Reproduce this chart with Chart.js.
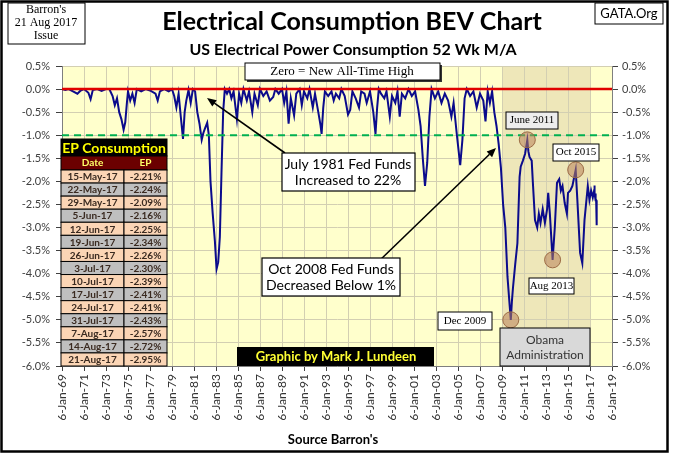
<!DOCTYPE html>
<html>
<head>
<meta charset="utf-8">
<script src="https://cdn.jsdelivr.net/npm/chart.js@4.4.0/dist/chart.umd.min.js"></script>
<style>
  html, body { margin: 0; padding: 0; background: #fff; }
  #wrap { width: 675px; height: 459px; }
</style>
</head>
<body>
<div id="wrap"><canvas id="bevChart" width="675" height="459"></canvas></div>
<script>
// Electrical consumption BEV chart (52 wk M/A, % below all-time high)

// decimal years of the weekly series
var dates = [
  1969.0, 1969.3, 1969.6, 1970.0, 1970.4, 1970.7, 1971.0, 1971.4, 1971.6, 1971.8,
  1972.2, 1972.6, 1973.0, 1973.3, 1973.6, 1973.8, 1974.0, 1974.2, 1974.4, 1974.6,
  1974.75, 1974.9, 1975.0, 1975.2, 1975.4, 1975.6, 1975.8, 1976.2, 1976.6, 1977.0,
  1977.5, 1977.7, 1977.9, 1978.3, 1978.7, 1979.0, 1979.2, 1979.4, 1979.6, 1979.8,
  1980.0, 1980.15, 1980.3, 1980.5, 1980.7, 1980.9, 1981.1, 1981.3, 1981.5, 1981.7,
  1981.85, 1982.0, 1982.2, 1982.35, 1982.5, 1982.7, 1982.9, 1983.05, 1983.2, 1983.35,
  1983.5, 1983.65, 1983.8, 1984.0, 1984.2, 1984.4, 1984.6, 1984.9, 1985.1, 1985.3,
  1985.5, 1985.8, 1986.0, 1986.3, 1986.5, 1986.8, 1987.0, 1987.3, 1987.6, 1987.9,
  1988.2, 1988.4, 1988.7, 1989.0, 1989.2, 1989.4, 1989.6, 1989.8, 1990.1, 1990.3,
  1990.6, 1990.8, 1991.0, 1991.3, 1991.5, 1991.8, 1992.0, 1992.3, 1992.5, 1992.6,
  1992.75, 1992.9, 1993.2, 1993.5, 1993.7, 1993.9, 1994.2, 1994.4, 1994.7, 1995.0,
  1995.2, 1995.4, 1995.7, 1996.0, 1996.2, 1996.5, 1996.7, 1997.0, 1997.3, 1997.5,
  1997.65, 1997.8, 1998.0, 1998.3, 1998.5, 1998.8, 1999.0, 1999.3, 1999.5, 1999.7,
  1999.9, 2000.2, 2000.5, 2000.8, 2001.1, 2001.4, 2001.6, 2001.8, 2002.0, 2002.2,
  2002.4, 2002.6, 2002.9, 2003.2, 2003.5, 2003.8, 2004.1, 2004.4, 2004.6, 2004.9,
  2005.2, 2005.4, 2005.6, 2005.8, 2006.1, 2006.4, 2006.7, 2007.0, 2007.3, 2007.5,
  2007.7, 2007.9, 2008.1, 2008.3, 2008.5, 2008.7, 2008.9, 2009.1, 2009.3, 2009.5,
  2009.7, 2009.8, 2009.9, 2010.0, 2010.2, 2010.4, 2010.6, 2010.7, 2010.9, 2011.1,
  2011.3, 2011.4, 2011.5, 2011.7, 2011.8, 2012.0, 2012.2, 2012.35, 2012.5, 2012.7,
  2012.9, 2013.1, 2013.2, 2013.35, 2013.6, 2013.8, 2014.0, 2014.2, 2014.35, 2014.5,
  2014.7, 2014.9, 2015.0, 2015.2, 2015.4, 2015.7, 2015.85, 2016.1, 2016.3, 2016.5,
  2016.8, 2016.95, 2017.1, 2017.25, 2017.367, 2017.386, 2017.405, 2017.425, 2017.444, 2017.463,
  2017.482, 2017.501, 2017.521, 2017.54, 2017.559, 2017.578, 2017.597, 2017.616, 2017.636
];

var epValues = [
  0, -0.02, 0, -0.05, -0.1, -0.03, 0, -0.08, -0.22, -0.02,
  0, -0.04, 0, 0, -0.15, -0.35, -0.2, -0.5, -0.65, -0.88,
  -0.72, -0.3, -0.05, -0.25, -0.1, -0.3, 0, -0.05, 0, -0.03,
  -0.1, -0.25, -0.05, 0, -0.05, 0, -0.15, -0.4, -0.1, -0.6,
  -1.08, -0.5, -0.25, -0.02, -0.3, 0, -0.05, -0.5, -0.75, -1.1,
  -0.95, -0.85, -0.73, -1.0, -2.0, -2.7, -3.3, -3.9, -3.75, -3.2,
  -1.8, -0.5, 0, -0.1, 0, -0.2, -0.05, -0.65, -0.1, -0.3,
  0, -0.25, -0.05, -0.5, -0.1, -0.35, 0, -0.15, -0.05, -0.25,
  -0.17, 0, -0.1, 0, -0.3, -0.05, -0.75, -0.2, -0.57, -0.1,
  0, -0.35, -0.05, -0.2, 0, -0.4, -0.1, -0.5, -0.78, -0.97,
  -0.4, -0.05, -0.15, -0.05, -0.25, -0.1, -0.2, 0, -0.15, -0.55,
  -0.45, -0.05, -0.2, -0.4, -0.05, -0.1, -0.3, -0.05, -0.5, -0.97,
  -0.4, 0, -0.1, -0.2, -0.05, -0.6, -0.15, -0.3, -0.05, -0.6,
  -0.1, -0.2, 0, -0.15, -0.05, -0.45, -0.8, -1.5, -2.1, -1.6,
  -0.6, 0, -0.2, -0.05, -0.3, -0.1, -0.25, -0.6, -0.3, -1.0,
  -1.65, -1.1, -0.2, 0, -0.15, -0.05, -0.4, -0.1, -0.25, -0.7,
  -0.05, -0.3, -0.05, -0.5, -0.8, -1.2, -1.7, -2.5, -3.0, -4.07,
  -4.7, -5.0, -4.6, -4.3, -3.8, -3.34, -1.9, -1.68, -1.55, -1.4,
  -1.1, -1.35, -1.47, -1.55, -2.0, -2.84, -3.0, -2.7, -2.9, -2.6,
  -2.9, -2.6, -2.25, -2.7, -3.7, -3.0, -2.03, -1.95, -2.2, -2.1,
  -2.47, -2.7, -2.25, -2.2, -2.1, -1.75, -2.4, -3.55, -3.77, -2.84,
  -2.1, -2.4, -2.2, -2.35, -2.21, -2.24, -2.09, -2.16, -2.25, -2.34,
  -2.26, -2.30, -2.39, -2.41, -2.41, -2.43, -2.57, -2.72, -2.95
];

var tickYears = [1969, 1971, 1973, 1975, 1977, 1979, 1981, 1983, 1985, 1987, 1989, 1991, 1993,
  1995, 1997, 1999, 2001, 2003, 2005, 2007, 2009, 2011, 2013, 2015, 2017, 2019];
var tickLabels = ['6-Jan-69', '6-Jan-71', '6-Jan-73', '6-Jan-75', '6-Jan-77', '6-Jan-79', '6-Jan-81',
  '6-Jan-83', '6-Jan-85', '6-Jan-87', '6-Jan-89', '6-Jan-91', '6-Jan-93', '6-Jan-95', '6-Jan-97',
  '6-Jan-99', '6-Jan-01', '6-Jan-03', '6-Jan-05', '6-Jan-07', '6-Jan-09', '6-Jan-11', '6-Jan-13',
  '6-Jan-15', '6-Jan-17', '6-Jan-19'];

// table in the lower left
var tableDates = ['15-May-17', '22-May-17', '29-May-17', '5-Jun-17', '12-Jun-17', '19-Jun-17',
  '26-Jun-17', '3-Jul-17', '10-Jul-17', '17-Jul-17', '24-Jul-17', '31-Jul-17', '7-Aug-17',
  '14-Aug-17', '21-Aug-17'];
var tableValues = [-2.21, -2.24, -2.09, -2.16, -2.25, -2.34, -2.26, -2.30, -2.39, -2.41, -2.41,
  -2.43, -2.57, -2.72, -2.95];

// circled turning points
var circleDates = [2009.8, 2011.3, 2013.6, 2015.7];
var obamaStart = 2009.0, obamaEnd = 2017.0;

function drawBox(ctx, x, y, w, h, fill, stroke, lw) {
    ctx.save();
    if (fill) { ctx.fillStyle = fill; ctx.fillRect(x, y, w, h); }
    if (stroke) { ctx.strokeStyle = stroke; ctx.lineWidth = lw || 1; ctx.strokeRect(x, y, w, h); }
    ctx.restore();
}

function drawLines(ctx, lines, cx, cy, lineH, font, color) {
    ctx.save();
    ctx.font = font;
    ctx.fillStyle = color;
    ctx.textAlign = 'center';
    ctx.textBaseline = 'middle';
    var y0 = cy - (lines.length - 1) * lineH / 2;
    lines.forEach(function (t, i) { ctx.fillText(t, cx, y0 + i * lineH); });
    ctx.restore();
}

function drawArrow(ctx, x1, y1, x2, y2) {
    ctx.save();
    ctx.strokeStyle = '#000';
    ctx.fillStyle = '#000';
    ctx.lineWidth = 1.6;
    var a = Math.atan2(y2 - y1, x2 - x1);
    var hx = x2 - 9 * Math.cos(a), hy = y2 - 9 * Math.sin(a);
    ctx.beginPath(); ctx.moveTo(x1, y1); ctx.lineTo(hx, hy); ctx.stroke();
    ctx.beginPath();
    ctx.moveTo(x2, y2);
    ctx.lineTo(x2 - 10 * Math.cos(a - 0.4), y2 - 10 * Math.sin(a - 0.4));
    ctx.lineTo(x2 - 10 * Math.cos(a + 0.4), y2 - 10 * Math.sin(a + 0.4));
    ctx.closePath(); ctx.fill();
    ctx.restore();
}

var decorPlugin = {
    id: 'decor',
    beforeDraw: function (chart) {
        var ctx = chart.ctx, ca = chart.chartArea, xs = chart.scales.x;
        ctx.save();
        ctx.fillStyle = '#fff';
        ctx.fillRect(0, 0, chart.width, chart.height);
        ctx.fillStyle = '#FFFFCC';
        ctx.fillRect(ca.left, ca.top, ca.right - ca.left, ca.bottom - ca.top);
        var ox1 = xs.getPixelForValue(obamaStart), ox2 = xs.getPixelForValue(obamaEnd);
        ctx.fillStyle = '#EEE7B9';
        ctx.fillRect(ox1, ca.top, ox2 - ox1, ca.bottom - ca.top);
        ctx.restore();
    },
    afterDatasetsDraw: function (chart) {
        var ctx = chart.ctx, ca = chart.chartArea, xs = chart.scales.x, ys = chart.scales.y;
        ctx.save();
        // zero line
        var y0 = ys.getPixelForValue(0);
        ctx.strokeStyle = '#E00000';
        ctx.lineWidth = 2.5;
        ctx.beginPath(); ctx.moveTo(ca.left, y0); ctx.lineTo(ca.right, y0); ctx.stroke();
        // -1% line
        var y1 = ys.getPixelForValue(-1);
        ctx.strokeStyle = '#00B050';
        ctx.lineWidth = 2;
        ctx.setLineDash([7, 5]);
        ctx.beginPath(); ctx.moveTo(ca.left, y1); ctx.lineTo(ca.right, y1); ctx.stroke();
        ctx.setLineDash([]);
        // circles
        circleDates.forEach(function (d) {
            var i = dates.indexOf(d);
            var px = xs.getPixelForValue(d), py = ys.getPixelForValue(epValues[i]);
            ctx.beginPath();
            ctx.arc(px, py, 8, 0, Math.PI * 2);
            ctx.fillStyle = 'rgba(185, 130, 90, 0.55)';
            ctx.fill();
            ctx.strokeStyle = '#9C6B45';
            ctx.lineWidth = 1;
            ctx.stroke();
        });
        ctx.restore();
    },
    afterDraw: function (chart) {
        var ctx = chart.ctx, ca = chart.chartArea;

        // titles
        drawLines(ctx, ['Electrical Consumption BEV Chart'], 352, 22, 0, 'bold 25px Lato', '#000');
        drawLines(ctx, ['US Electrical Power Consumption 52 Wk M/A'], 353, 50, 0, 'bold 16px Lato', '#000');
        drawLines(ctx, ["Source Barron's"], 333, 440, 0, 'bold 13px Lato', '#000');

        // corner boxes
        drawBox(ctx, 8, 3, 77, 41, '#fff', '#000', 1);
        drawLines(ctx, ["Barron's", '21 Aug 2017', 'Issue'], 46, 23, 13, '12px "Liberation Serif"', '#000');
        drawBox(ctx, 595, 3, 68, 21, '#fff', '#000', 1);
        drawLines(ctx, ['GATA.Org'], 629, 14, 0, '13px Lato', '#000');

        // text boxes
        drawBox(ctx, 247, 65, 195, 17, '#333', null);
        drawBox(ctx, 245, 63, 195, 17, '#fff', '#000', 1);
        drawLines(ctx, ['Zero = New All-Time High'], 342, 72, 0, '13px "Liberation Serif"', '#000');

        drawArrow(ctx, 285, 153, 207, 98);
        drawBox(ctx, 282, 153, 133, 38, '#fff', '#000', 1.2);
        drawLines(ctx, ['July 1981 Fed Funds', 'Increased to 22%'], 348, 172, 16, '14px Lato', '#000');

        drawArrow(ctx, 378, 262, 496, 148);
        drawBox(ctx, 262, 258, 138, 38, '#fff', '#000', 1.2);
        drawLines(ctx, ['Oct 2008 Fed Funds', 'Decreased Below 1%'], 331, 277, 16, '14px Lato', '#000');

        drawBox(ctx, 438, 312, 54, 18, '#fff', '#000', 1);
        drawLines(ctx, ['Dec 2009'], 465, 321, 0, '11px "Liberation Serif"', '#000');
        drawBox(ctx, 506, 112, 52, 17, '#EDEDED', '#000', 1);
        drawLines(ctx, ['June 2011'], 532, 120.5, 0, '11px "Liberation Serif"', '#000');
        drawBox(ctx, 529, 278, 45, 16, '#fff', '#000', 1);
        drawLines(ctx, ['Aug 2013'], 551.5, 286, 0, '11px "Liberation Serif"', '#000');
        drawBox(ctx, 553, 144, 46, 17, '#fff', '#000', 1);
        drawLines(ctx, ['Oct 2015'], 576, 152.5, 0, '11px "Liberation Serif"', '#000');

        drawBox(ctx, 500, 328, 90, ca.bottom - 328, '#D9D9D9', '#000', 1);
        drawLines(ctx, ['Obama', 'Administration'], 545, 348, 15, '12px Lato', '#333');

        drawBox(ctx, 237, 347, 197, ca.bottom - 347, '#000', null);
        drawLines(ctx, ['Graphic by Mark J. Lundeen'], 336, 357, 0, 'bold 13px Lato', '#FFFF33');

        // EP table
        var tx = 61, tw = 106, colX = 124, top = 139;
        drawBox(ctx, tx, top, tw, 17, '#000', '#000', 1);
        drawLines(ctx, ['EP Consumption'], tx + tw / 2, top + 9, 0, 'bold 14px Lato', '#FFFF00');
        drawBox(ctx, tx, top + 17, tw, 14, '#6B0000', '#000', 1);
        drawLines(ctx, ['Date'], (tx + colX) / 2, top + 24, 0, 'bold 10px Lato', '#FFFF66');
        drawLines(ctx, ['EP'], (colX + tx + tw) / 2, top + 24, 0, 'bold 10px Lato', '#FFFF66');
        var rowTop = top + 31, rowH = (ca.bottom - rowTop) / tableDates.length;
        tableDates.forEach(function (d, i) {
            var ry = rowTop + i * rowH;
            var fill = i % 2 === 0 ? '#FBD5B5' : '#BFBFBF';
            drawBox(ctx, tx, ry, colX - tx, rowH, fill, '#000', 1);
            drawBox(ctx, colX, ry, tx + tw - colX, rowH, fill, '#000', 1);
            drawLines(ctx, [d], (tx + colX) / 2, ry + rowH / 2 + 0.5, 0, 'bold 10px Lato', '#3A2A20');
            drawLines(ctx, [tableValues[i].toFixed(2) + '%'], (colX + tx + tw) / 2, ry + rowH / 2 + 0.5, 0, 'bold 10px Lato', '#3A2A20');
        });

        // frame
        ctx.save();
        ctx.strokeStyle = '#000';
        ctx.lineWidth = 2.5;
        ctx.strokeRect(1.5, 1.5, 666, 450);
        ctx.restore();
    }
};

var ctxBev = document.getElementById('bevChart').getContext('2d');
var bevChart = new Chart(ctxBev, {
    type: 'line',
    data: {
        datasets: [{
            label: 'EP Consumption',
            data: dates.map(function (d, i) { return { x: d, y: epValues[i] }; }),
            borderColor: '#0B0B8C',
            borderWidth: 2,
            pointRadius: 0,
            tension: 0,
            fill: false
        }]
    },
    options: {
        responsive: false,
        animation: false,
        devicePixelRatio: 1,
        layout: { padding: { top: 66, left: 0, right: 0, bottom: 0 } },
        plugins: {
            legend: { display: false },
            tooltip: { enabled: false }
        },
        scales: {
            x: {
                type: 'linear',
                min: 1969,
                max: 2019,
                afterBuildTicks: function (scale) {
                    scale.ticks = tickYears.map(function (v) { return { value: v }; });
                },
                afterFit: function (scale) { scale.height = 93; },
                ticks: {
                    autoSkip: false,
                    minRotation: 90,
                    maxRotation: 90,
                    padding: 3,
                    color: '#333',
                    font: { family: 'Lato', size: 12 },
                    callback: function (v, i) { return tickLabels[i]; }
                },
                grid: { color: '#D3CFB2', tickColor: '#404040', tickLength: 5 },
                border: { color: '#7F7F7F' }
            },
            y: {
                position: 'left',
                min: -6,
                max: 0.5,
                afterFit: function (scale) { scale.width = 62; },
                ticks: {
                    stepSize: 0.5,
                    padding: 6,
                    color: '#404040',
                    font: { family: 'Lato', size: 11 },
                    callback: function (v) { return v.toFixed(1) + '%'; }
                },
                grid: { color: '#D3CFB2', tickColor: '#404040', tickLength: 6 },
                border: { color: '#7F7F7F' }
            },
            y2: {
                position: 'right',
                min: -6,
                max: 0.5,
                afterFit: function (scale) { scale.width = 63; },
                ticks: {
                    stepSize: 0.5,
                    padding: 4,
                    color: '#404040',
                    font: { family: 'Lato', size: 11 },
                    callback: function (v) { return v.toFixed(1) + '%'; }
                },
                grid: { drawOnChartArea: false, tickColor: '#404040', tickLength: 6 },
                border: { color: '#7F7F7F' }
            }
        }
    },
    plugins: [decorPlugin]
});
</script>
</body>
</html>
